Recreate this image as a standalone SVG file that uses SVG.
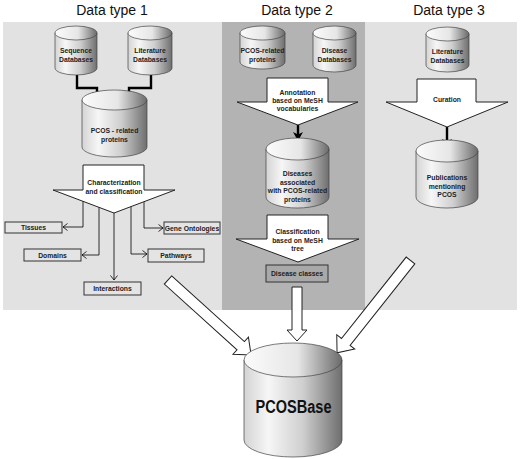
<svg xmlns="http://www.w3.org/2000/svg" width="520" height="459" viewBox="0 0 520 459">
<defs>
<linearGradient id="gBody" x1="0" y1="0" x2="1" y2="0">
<stop offset="0" stop-color="#d4d4d4"/>
<stop offset="0.25" stop-color="#f6f6f6"/>
<stop offset="0.6" stop-color="#cfcfcf"/>
<stop offset="1" stop-color="#6e6e6e"/>
</linearGradient>
<linearGradient id="gTop" x1="0" y1="0" x2="1" y2="0">
<stop offset="0" stop-color="#fbfbfb"/>
<stop offset="0.55" stop-color="#e6e6e6"/>
<stop offset="1" stop-color="#6a6a6a"/>
</linearGradient>
<marker id="mThick" markerUnits="userSpaceOnUse" markerWidth="10" markerHeight="10" refX="9" refY="5" orient="auto">
<path d="M0,0 L9,5 L0,10 L2.5,5 Z" fill="#000"/>
</marker>
<marker id="mThin" markerUnits="userSpaceOnUse" markerWidth="6" markerHeight="8" refX="5" refY="4" orient="auto">
<path d="M0.5,0.5 L5,4 L0.5,7.5" fill="none" stroke="#000" stroke-width="0.8"/>
</marker>
</defs>
<style>
.title{font-family:"Liberation Sans",Arial,sans-serif;font-size:14px;fill:#111;text-anchor:middle}
.t{font-family:"Liberation Sans",Arial,sans-serif;font-size:6.8px;font-weight:bold;fill:#222;text-anchor:middle}
.body{fill:url(#gBody);stroke:#444;stroke-width:0.7}
.top{fill:url(#gTop);stroke:#444;stroke-width:0.7}
.blk{fill:#fff;stroke:#222;stroke-width:1}
.box{fill:#e4e4e4;stroke:#333;stroke-width:1}
.thick{fill:none;stroke:#000;stroke-width:2.4}
.thin{fill:none;stroke:#000;stroke-width:0.8}
</style>
<rect width="520" height="459" fill="#fff"/>
<g id="panels">
<rect x="3" y="22" width="219" height="288" fill="#e2e2e2"/>
<rect x="222" y="22" width="143" height="288" fill="#b3b3b3"/>
<rect x="365" y="22" width="152" height="288" fill="#e2e2e2"/>
</g>
<g id="titles">
<text class="title" x="112" y="15">Data type 1</text>
<text class="title" x="297" y="15">Data type 2</text>
<text class="title" x="449" y="15">Data type 3</text>
</g>
<g id="connectors">
<path class="thick" d="M77,75 V88 H97 V101" marker-end="url(#mThick)"/>
<path class="thick" d="M151,75 V88 H129 V101" marker-end="url(#mThick)"/>
<path class="thick" d="M298,125 V141" marker-end="url(#mThick)"/>
<path class="thick" d="M447,127 V148" marker-end="url(#mThick)"/>
<path class="thin" d="M83,201 V227 H63" marker-end="url(#mThin)"/>
<path class="thin" d="M99,207 V255 H82" marker-end="url(#mThin)"/>
<path class="thin" d="M114,213 V280" marker-end="url(#mThin)"/>
<path class="thin" d="M131,206 V254 H147" marker-end="url(#mThin)"/>
<path class="thin" d="M144,202 V228 H163" marker-end="url(#mThin)"/>
<path class="blk" transform="translate(168,280) rotate(42.1)" d="M0,-5.5 H98 V-11.5 L112,0 L98,11.5 V5.5 H0 Z"/>
<path class="blk" d="M292,287 H302 V330 H307 L297,341 L287,330 H292 Z"/>
<path class="blk" transform="translate(410.5,260.5) rotate(128.5)" d="M0,-5.5 H104 V-11.5 L118,0 L104,11.5 V5.5 H0 Z"/>
</g>
<g id="seqdb">
<path class="body" d="M55,33 V68 A21,7 0 0 0 97,68 V33 Z"/>
<ellipse class="top" cx="76" cy="33" rx="21" ry="7"/>
<text class="t" x="76" y="53">Sequence</text>
<text class="t" x="76" y="62">Databases</text>
</g>
<g id="litdb1">
<path class="body" d="M128,33 V68 A22,7 0 0 0 172,68 V33 Z"/>
<ellipse class="top" cx="150" cy="33" rx="22" ry="7"/>
<text class="t" x="150" y="53">Literature</text>
<text class="t" x="150" y="62">Databases</text>
</g>
<g id="pcosprot1">
<path class="body" d="M82,100 V147 A32.5,10 0 0 0 147,147 V100 Z"/>
<ellipse class="top" cx="114.5" cy="100" rx="32.5" ry="10"/>
<text class="t" x="114.5" y="133">PCOS - related</text>
<text class="t" x="114.5" y="142">proteins</text>
</g>
<g id="charact">
<path class="blk" d="M83,165 H144 V190 H175 L114,213 L53,190 H83 Z"/>
<text class="t" x="114" y="185">Characterization</text>
<text class="t" x="114" y="194">and classification</text>
</g>
<g id="tissues">
<rect class="box" x="5" y="222" width="57" height="11"/>
<text class="t" x="33.5" y="230">Tissues</text>
</g>
<g id="geneont">
<rect class="box" x="164" y="222" width="56" height="12"/>
<text class="t" x="192" y="230.5">Gene Ontologies</text>
</g>
<g id="domains">
<rect class="box" x="24" y="249" width="57" height="12"/>
<text class="t" x="52.5" y="257.5">Domains</text>
</g>
<g id="pathways">
<rect class="box" x="148" y="249" width="56" height="13"/>
<text class="t" x="176" y="258">Pathways</text>
</g>
<g id="interactions">
<rect class="box" x="84" y="282" width="57" height="13"/>
<text class="t" x="112.5" y="291">Interactions</text>
</g>
<g id="pcosprot2">
<path class="body" d="M240,33 V62 A22.5,7 0 0 0 285,62 V33 Z"/>
<ellipse class="top" cx="262.5" cy="33" rx="22.5" ry="7"/>
<text class="t" x="262.5" y="53">PCOS-related</text>
<text class="t" x="262.5" y="61.5">proteins</text>
</g>
<g id="diseasedb">
<path class="body" d="M313,33 V65 A21.5,7 0 0 0 356,65 V33 Z"/>
<ellipse class="top" cx="334.5" cy="33" rx="21.5" ry="7"/>
<text class="t" x="334.5" y="53">Disease</text>
<text class="t" x="334.5" y="62">Databases</text>
</g>
<g id="annotation">
<path class="blk" d="M267,78 H328 V102 H358 L298,125 L237,102 H267 Z"/>
<text class="t" x="297.5" y="95">Annotation</text>
<text class="t" x="297.5" y="103">based on MeSH</text>
<text class="t" x="297.5" y="111">vocabularies</text>
</g>
<g id="diseases">
<path class="body" d="M266,149 V197 A31.5,11 0 0 0 329,197 V149 Z"/>
<ellipse class="top" cx="297.5" cy="149" rx="31.5" ry="11"/>
<text class="t" x="297.5" y="176">Diseases</text>
<text class="t" x="297.5" y="184.5">associated</text>
<text class="t" x="297.5" y="193">with PCOS-related</text>
<text class="t" x="297.5" y="201.5">proteins</text>
</g>
<g id="classif">
<path class="blk" d="M267,215 H328 V239 H359 L298,262 L236,239 H267 Z"/>
<text class="t" x="297.5" y="234">Classification</text>
<text class="t" x="297.5" y="242.5">based on MeSH</text>
<text class="t" x="297.5" y="251">tree</text>
</g>
<g id="diseaseclasses">
<rect x="266" y="265" width="62" height="17" fill="#a9a9a9" stroke="#333" stroke-width="1"/>
<text class="t" x="297" y="276">Disease classes</text>
</g>
<g id="litdb2">
<path class="body" d="M426,34 V65 A21.5,7 0 0 0 469,65 V34 Z"/>
<ellipse class="top" cx="447.5" cy="34" rx="21.5" ry="7"/>
<text class="t" x="447.5" y="54">Literature</text>
<text class="t" x="447.5" y="63">Databases</text>
</g>
<g id="curation">
<path class="blk" d="M417,79 H476 V102 H508 L447,127 L386,102 H417 Z"/>
<text class="t" x="447" y="102">Curation</text>
</g>
<g id="publications">
<path class="body" d="M416,151 V197 A31,11 0 0 0 478,197 V151 Z"/>
<ellipse class="top" cx="447" cy="151" rx="31" ry="11"/>
<text class="t" x="447" y="180">Publications</text>
<text class="t" x="447" y="188.5">mentioning</text>
<text class="t" x="447" y="197">PCOS</text>
</g>
<g id="pcosbase">
<path class="body" d="M244,360 V440 A49,17 0 0 0 342,440 V360 Z"/>
<ellipse class="top" cx="293" cy="360" rx="49" ry="17"/>
<text x="293.5" y="413" font-family="'Liberation Sans',Arial,sans-serif" font-size="17.5" font-weight="bold" fill="#111" text-anchor="middle" textLength="76" lengthAdjust="spacingAndGlyphs">PCOSBase</text>
</g>
</svg>
